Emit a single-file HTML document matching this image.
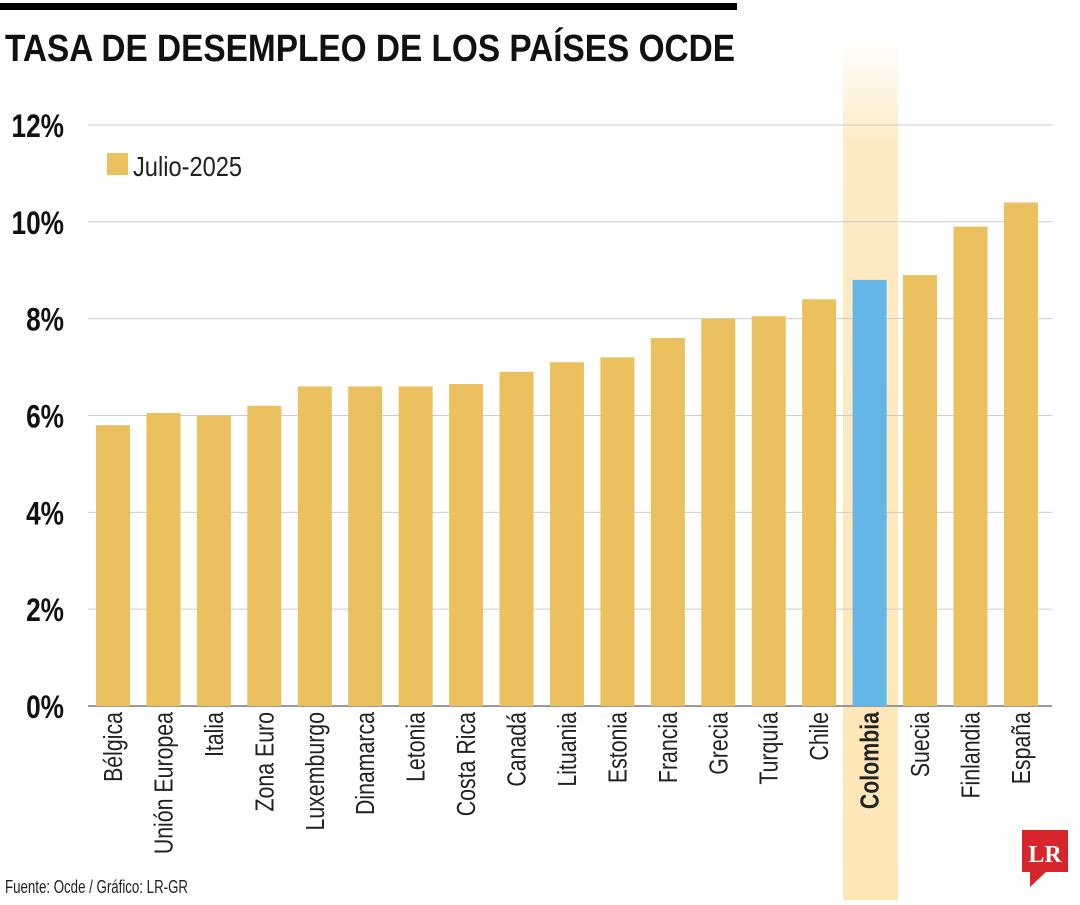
<!DOCTYPE html>
<html><head><meta charset="utf-8"><style>
body{margin:0;width:1080px;height:900px;background:#fff;overflow:hidden;font-family:"Liberation Sans Narrow","Liberation Sans",sans-serif;}
</style></head><body>
<svg id="chart" width="1080" height="900" xmlns="http://www.w3.org/2000/svg">
<defs><linearGradient id="hl" x1="0" y1="0" x2="0" y2="1"><stop offset="0" stop-color="#fdebc4" stop-opacity="0"/><stop offset="0.12" stop-color="#fdebc4"/><stop offset="1" stop-color="#fde6b6"/></linearGradient></defs>
<rect x="0" y="3" width="737" height="7" fill="#000"/>
<text x="5" y="61" font-size="38" font-weight="bold" fill="#111" textLength="730" lengthAdjust="spacingAndGlyphs">TASA DE DESEMPLEO DE LOS PAÍSES OCDE</text>
<rect x="843" y="40" width="55" height="860" fill="url(#hl)"/>
<g id="grid"></g><g id="bars"></g><g id="labels"></g>
<rect x="107" y="153" width="21" height="22" fill="#ebc05e"/>
<text x="133" y="176" font-size="28" fill="#222" textLength="109" lengthAdjust="spacingAndGlyphs">Julio-2025</text>
<text x="5" y="893" font-size="18" fill="#222" textLength="183" lengthAdjust="spacingAndGlyphs">Fuente: Ocde / Gráfico: LR-GR</text>
<g><path d="M1022 830H1068V872H1046L1030 887V872H1022Z" fill="#d7262b"/><text x="1045" y="862" font-family="Liberation Serif,serif" font-weight="bold" font-size="24" fill="#fff" text-anchor="middle">LR</text></g>
</svg>
<script>
const categories=["Bélgica","Unión Europea","Italia","Zona Euro","Luxemburgo","Dinamarca","Letonia","Costa Rica","Canadá","Lituania","Estonia","Francia","Grecia","Turquía","Chile","Colombia","Suecia","Finlandia","España"];
const values=[5.8,6.05,6.0,6.2,6.6,6.6,6.6,6.65,6.9,7.1,7.2,7.6,8.0,8.05,8.4,8.8,8.9,9.9,10.4];
const ticks=[0,2,4,6,8,10,12];
const tickLabels=["0%","2%","4%","6%","8%","10%","12%"];
const NS="http://www.w3.org/2000/svg";
const y=v=>706-v*48.42;
const x=i=>96+i*50.44;
function mk(t,a,p){const e=document.createElementNS(NS,t);for(const k in a)e.setAttribute(k,a[k]);p.appendChild(e);return e;}
const grid=document.getElementById('grid'),bars=document.getElementById('bars'),labels=document.getElementById('labels');
ticks.forEach((t,i)=>{
 const l=mk('line',{x1:88,x2:1052,y1:y(t),y2:y(t),stroke:t===0?'#999':'#ccc','stroke-width':t===0?2:1},grid);
 
 
 const tx=mk('text',{'font-size':32,'font-weight':'bold','text-anchor':'end',fill:'#111',transform:`translate(64 ${y(t)+12}) scale(0.82 1)`},grid);
 tx.textContent=tickLabels[i];
 
 
});
categories.forEach((c,i)=>{
 const col=c==="Colombia";
 const r=mk('rect',{x:x(i),y:y(values[i]),width:34,height:706-y(values[i]),fill:col?'#63b6e6':'#ebc05e'},bars);
 
 
 const cx=x(i)+17+9;
 const t=mk('text',{'font-size':26,'text-anchor':'end',fill:'#222','font-weight':col?'bold':'normal',transform:`translate(${cx} 712) rotate(-90) scale(0.82 1)`},labels);
 t.textContent=c;
 
 
});
</script>
</body></html>
